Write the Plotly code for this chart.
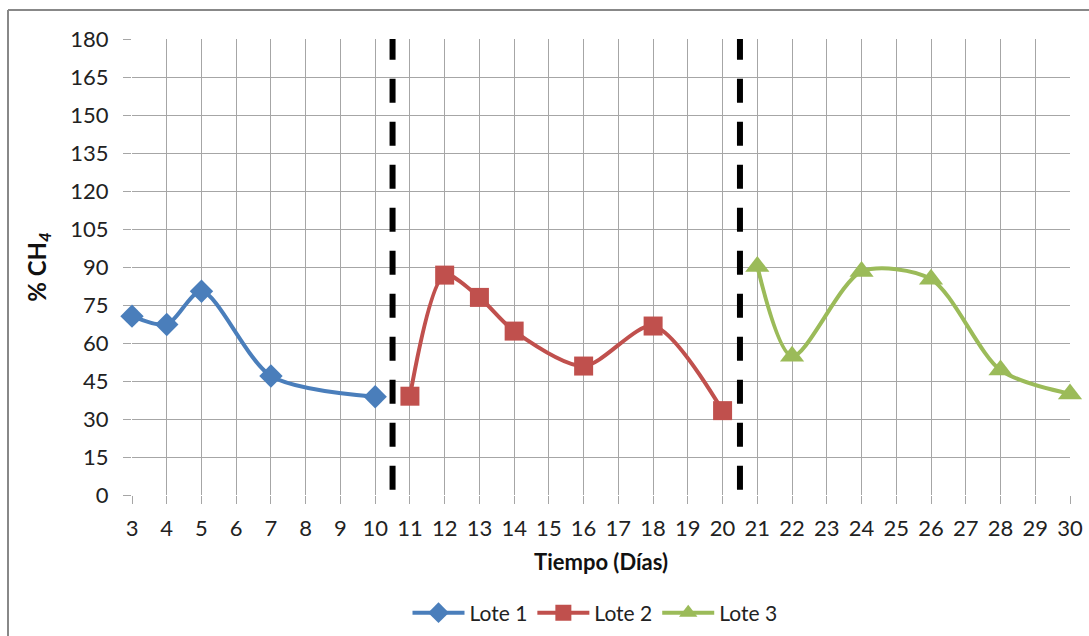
import plotly.graph_objects as go

# Data
lote1_x = [3, 4, 5, 7, 10]
lote1_y = [70.6, 67.3, 80.4, 47.0, 38.8]
lote2_x = [11, 12, 13, 14, 16, 18, 20]
lote2_y = [39.0, 86.8, 78.0, 64.7, 50.9, 66.7, 33.3]
lote3_x = [21, 22, 24, 26, 28, 30]
lote3_y = [90.2, 54.8, 88.2, 85.2, 49.3, 39.9]
separators = [10.5, 20.5]
x_ticks = list(range(3, 31))
y_ticks = list(range(0, 181, 15))

FONT = "Lato, 'Open Sans', sans-serif"
W, H = 1089, 636
L, R, T, B = 132, 1070, 39, 495

fig = go.Figure()
series = [
    ("Lote 1", lote1_x, lote1_y, "#4A7EBB", "diamond", 18),
    ("Lote 2", lote2_x, lote2_y, "#C0504D", "square", 19),
    ("Lote 3", lote3_x, lote3_y, "#9BBB59", "triangle-up", 21),
]
for name, xs, ys, col, sym, sz in series:
    fig.add_trace(go.Scatter(
        x=xs, y=ys, name=name, mode="lines+markers", cliponaxis=False,
        line=dict(color=col, width=4, shape="spline", smoothing=0.8),
        marker=dict(symbol=sym, size=sz, color=col, line=dict(width=0)),
    ))

shapes = []
for sx in separators:
    shapes.append(dict(type="line", xref="x", yref="y", x0=sx, x1=sx, y0=181.3, y1=0,
                       line=dict(color="black", width=6, dash="24px,19px"), layer="above"))
# outer chart border (left and top visible)
shapes.append(dict(type="line", xref="paper", yref="paper",
                   x0=(8 - L) / (R - L), x1=(8 - L) / (R - L),
                   y0=(B - 10) / (B - T), y1=(B - 640) / (B - T),
                   line=dict(color="#888888", width=2)))
shapes.append(dict(type="line", xref="paper", yref="paper",
                   x0=(8 - L) / (R - L), x1=(1095 - L) / (R - L),
                   y0=(B - 10) / (B - T), y1=(B - 10) / (B - T),
                   line=dict(color="#888888", width=2)))

fig.update_layout(
    width=W, height=H,
    margin=dict(l=L, r=W - R, t=T, b=H - B, autoexpand=False),
    paper_bgcolor="white", plot_bgcolor="white",
    font=dict(family=FONT, size=22, color="#222222"),
    shapes=shapes,
    showlegend=True,
    legend=dict(orientation="h", x=(595 - L) / (R - L), xanchor="center",
                y=-(613 - B) / (B - T), yanchor="middle",
                font=dict(family=FONT, size=21, color="#222222"),
                itemwidth=52, tracegroupgap=0),
    xaxis=dict(
        range=[3, 30], tickmode="array", tickvals=x_ticks,
        ticktext=[str(v) for v in x_ticks], automargin=False,
        showgrid=True, gridcolor="#A6A6A6", gridwidth=1,
        ticks="outside", ticklen=8, tickcolor="#A6A6A6", tickwidth=1,
        showline=False, zeroline=False, ticklabelstandoff=6,
        tickfont=dict(size=22),
        title=dict(text="<b>Tiempo (Días)</b>", font=dict(family=FONT, size=22, color="#111111"),
                   standoff=14),
    ),
    yaxis=dict(
        range=[0, 180], tickmode="array", tickvals=y_ticks, automargin=False,
        showgrid=True, gridcolor="#A6A6A6", gridwidth=1,
        ticks="outside", ticklen=8, tickcolor="#A6A6A6", tickwidth=1,
        showline=False, zeroline=False, ticklabelstandoff=10,
        tickfont=dict(size=22),
        title=dict(text="<b>% CH<sub><i>4</i></sub></b>", font=dict(family=FONT, size=24, color="#111111"),
                   standoff=16),
    ),
)

fig.write_html("out.html")
